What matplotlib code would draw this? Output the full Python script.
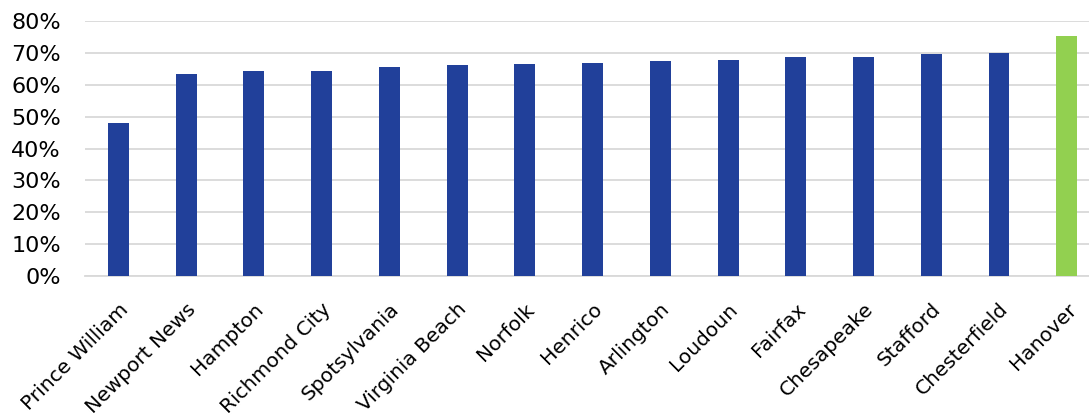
import matplotlib.pyplot as plt
from matplotlib.ticker import PercentFormatter

counties = ['Prince William', 'Newport News', 'Hampton', 'Richmond City', 'Spotsylvania',
            'Virginia Beach', 'Norfolk', 'Henrico', 'Arlington', 'Loudoun', 'Fairfax',
            'Chesapeake', 'Stafford', 'Chesterfield', 'Hanover']
rates = [48.2, 63.5, 64.3, 64.5, 65.7, 66.2, 66.5, 66.9, 67.6, 67.9, 68.7, 68.9, 69.8, 69.9, 75.3]
highlight = 'Hanover'

colors = ['#92d050' if c == highlight else '#21409a' for c in counties]

fig = plt.figure(figsize=(10.89, 4.17), dpi=100)
ax = fig.add_axes([84.6 / 1089, 141 / 417, 1016 / 1089, 254.7 / 417])

x = range(len(counties))
ax.bar(x, rates, width=0.31, color=colors, zorder=3)

ax.set_xlim(-0.5, len(counties) - 0.5)
ax.set_ylim(0, 80)
ax.set_yticks(range(0, 81, 10))
ax.yaxis.set_major_formatter(PercentFormatter(decimals=0))
ax.grid(axis='y', color='#d9d9d9', linewidth=1.3, zorder=0)

for s in ['top', 'right', 'left']:
    ax.spines[s].set_visible(False)
ax.spines['bottom'].set_color('#d9d9d9')
ax.spines['bottom'].set_linewidth(1.3)
ax.tick_params(length=0, colors='black')
ax.tick_params(axis='y', labelsize=16, pad=17)
ax.tick_params(axis='x', labelsize=14.5, pad=17)

ax.set_xticks(list(x))
ax.set_xticklabels(counties, rotation=45, ha='right', rotation_mode='anchor')

fig.savefig('out.png', dpi=100)
